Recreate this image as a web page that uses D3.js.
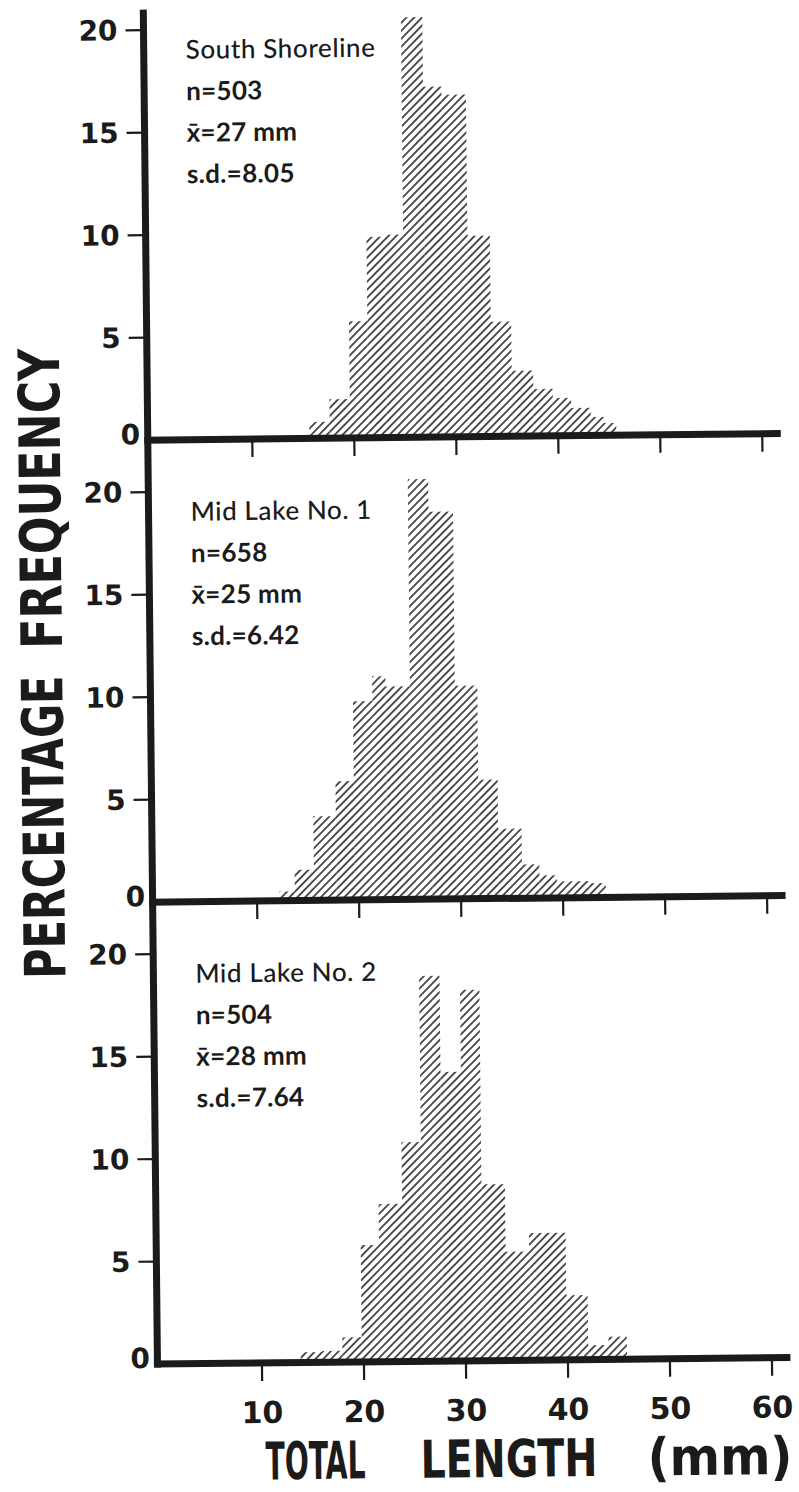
<!DOCTYPE html>
<html>
<head>
<meta charset="utf-8">
<script src="https://cdn.jsdelivr.net/npm/d3@7"></script>
<style>
  body { margin: 0; background: #fff; }
  svg { display: block; }
</style>
</head>
<body>
<svg id="chart" width="799" height="1492"></svg>
<script>
// Length-frequency histograms for three samples (percentage of fish in each length class)
const panelNames = ["South Shoreline", "Mid Lake No. 1", "Mid Lake No. 2"];
const sampleSizes = [503, 658, 504];
const meanLengths = [27, 25, 28];
const stdDevs = ["8.05", "6.42", "7.64"];

// Class edges (mm) and the percentage of the sample falling in each class
const southEdges = [15.6, 17.6, 19.6, 21.4, 23.2, 25.0, 27.1, 28.9, 31.3, 33.5, 35.5, 37.6, 39.5, 41.3, 43.2, 44.5, 45.7];
const southPct   = [0.8, 1.9, 5.7, 9.8, 9.9, 20.5, 17.1, 16.7, 9.8, 5.6, 3.2, 2.3, 1.85, 1.35, 0.9, 0.6];

const mid1Edges = [12.2, 13.7, 15.6, 17.8, 19.6, 21.5, 22.8, 25.2, 27.2, 29.6, 31.8, 33.7, 36.0, 37.7, 39.4, 41.0, 42.6, 44.2];
const mid1Pct   = [0.45, 1.5, 4.1, 5.8, 9.7, 10.9, 10.4, 20.5, 18.9, 10.4, 5.8, 3.4, 1.65, 1.1, 0.8, 0.8, 0.7];

const mid2Edges = [13.8, 15.9, 17.9, 19.8, 21.6, 23.9, 25.8, 27.8, 29.8, 31.7, 34.0, 36.3, 39.9, 42.0, 44.0, 45.8];
const mid2Pct   = [0.5, 0.55, 1.2, 5.7, 7.7, 10.7, 18.8, 14.1, 18.1, 8.6, 5.3, 6.2, 3.15, 0.7, 1.1];

const yTicks = [0, 5, 10, 15, 20];
const xTicks = [10, 20, 30, 40, 50, 60];

const samples = [
  { edges: southEdges, pct: southPct },
  { edges: mid1Edges, pct: mid1Pct },
  { edges: mid2Edges, pct: mid2Pct }
];

// ---- layout ----
const ink = "#1b1b1b";
const axisX = 151;
const axisW = 7;
const baseRight = 784;
const baselines = [437.5, 899.5, 1361.5];
const unitPx = 20.5;

const svg = d3.select("#chart");

const defs = svg.append("defs");
const hatch = defs.append("pattern")
  .attr("id", "hatch")
  .attr("patternUnits", "userSpaceOnUse")
  .attr("width", 5.6)
  .attr("height", 5.6)
  .attr("patternTransform", "rotate(45)");
hatch.append("line")
  .attr("x1", 2.8).attr("y1", -1)
  .attr("x2", 2.8).attr("y2", 6.6)
  .attr("stroke", ink)
  .attr("stroke-width", 1.5);

// the whole figure sits very slightly turned
const fig = svg.append("g").attr("transform", "rotate(-0.6, 400, 746)");

const x = d3.scaleLinear().domain([0, 60]).range([153.5, 765.5]);

const numFont = "'DejaVu Sans', sans-serif";
const noteFont = "Lato, 'Open Sans', sans-serif";
const titleFont = "'Liberation Sans Narrow', 'DejaVu Sans Condensed', sans-serif";

samples.forEach((s, i) => {
  const B = baselines[i];
  const y = d3.scaleLinear().domain([0, 20]).range([B, B - 20 * unitPx]);
  const g = fig.append("g");

  const bins = s.pct.map((v, k) => ({ x0: s.edges[k], x1: s.edges[k + 1], v }));

  g.selectAll("rect.bar")
    .data(bins)
    .join("rect")
    .attr("class", "bar")
    .attr("x", d => x(d.x0))
    .attr("width", d => x(d.x1) - x(d.x0))
    .attr("y", d => y(d.v))
    .attr("height", d => B - y(d.v))
    .attr("fill", "url(#hatch)");

  // baseline with downward ticks
  g.append("line")
    .attr("x1", axisX - axisW / 2).attr("x2", baseRight)
    .attr("y1", B).attr("y2", B)
    .attr("stroke", ink).attr("stroke-width", axisW);

  g.selectAll("line.xt")
    .data(xTicks)
    .join("line")
    .attr("class", "xt")
    .attr("x1", d => x(d)).attr("x2", d => x(d))
    .attr("y1", B).attr("y2", B + 18)
    .attr("stroke", ink).attr("stroke-width", 2.2);

  // y ticks and labels
  const nz = yTicks.filter(t => t > 0);
  g.selectAll("line.yt")
    .data(nz)
    .join("line")
    .attr("class", "yt")
    .attr("x1", axisX - 18).attr("x2", axisX)
    .attr("y1", d => y(d)).attr("y2", d => y(d))
    .attr("stroke", ink).attr("stroke-width", 2.2);

  g.selectAll("text.yl")
    .data(yTicks)
    .join("text")
    .attr("class", "yl")
    .attr("x", d => d === 0 ? axisX - axisW / 2 - 4 : 125)
    .attr("y", d => d === 0 ? B + 4 : y(d) + 10)
    .attr("text-anchor", "end")
    .attr("font-family", numFont)
    .attr("font-weight", "bold")
    .attr("font-size", 28)
    .attr("fill", ink)
    .text(d => d);

  // sample annotation
  const tx = 193, ty = B - 381, lh = 41.5;
  const notes = [
    { t: panelNames[i], w: 500, ls: 0.6 },
    { t: "n=" + sampleSizes[i], w: 700, ls: 0.3 },
    { t: "x\u0304=" + meanLengths[i] + " mm", w: 700, ls: 0.3 },
    { t: "s.d.=" + stdDevs[i], w: 700, ls: 0.3 }
  ];
  g.selectAll("text.note")
    .data(notes)
    .join("text")
    .attr("class", "note")
    .attr("x", tx)
    .attr("y", (d, k) => ty + k * lh)
    .attr("font-family", noteFont)
    .attr("font-weight", d => d.w)
    .attr("font-size", 26)
    .attr("letter-spacing", d => d.ls)
    .attr("fill", ink)
    .text(d => d.t);

  if (i === 2) {
    g.selectAll("text.xl")
      .data(xTicks)
      .join("text")
      .attr("class", "xl")
      .attr("x", d => x(d))
      .attr("y", B + 60)
      .attr("text-anchor", "middle")
      .attr("font-family", numFont)
      .attr("font-weight", "bold")
      .attr("font-size", 30)
      .attr("fill", ink)
      .text(d => d);
  }
});

// left axis runs through all three panels
fig.append("line")
  .attr("x1", axisX).attr("x2", axisX)
  .attr("y1", 7).attr("y2", baselines[2] + axisW / 2)
  .attr("stroke", ink).attr("stroke-width", axisW);

// axis titles, word by word
const yWords = [
  { t: "PERCENTAGE", from: 975, to: 672 },
  { t: "FREQUENCY", from: 645, to: 345 }
];
yWords.forEach(w => {
  fig.append("text")
    .attr("transform", `translate(63,${w.from}) rotate(-90)`)
    .attr("font-family", titleFont)
    .attr("font-weight", "bold")
    .attr("font-size", 57)
    .attr("textLength", w.from - w.to)
    .attr("lengthAdjust", "spacingAndGlyphs")
    .attr("fill", ink)
    .text(w.t);
});

const xWords = [
  { t: "TOTAL", from: 258, to: 358 },
  { t: "LENGTH", from: 413, to: 590 },
  { t: "(mm)", from: 640, to: 785 }
];
xWords.forEach(w => {
  fig.append("text")
    .attr("x", w.from)
    .attr("y", 1478)
    .attr("font-family", titleFont)
    .attr("font-weight", "bold")
    .attr("font-size", 52)
    .attr("textLength", w.to - w.from)
    .attr("lengthAdjust", "spacingAndGlyphs")
    .attr("fill", ink)
    .text(w.t);
});
</script>
</body>
</html>
